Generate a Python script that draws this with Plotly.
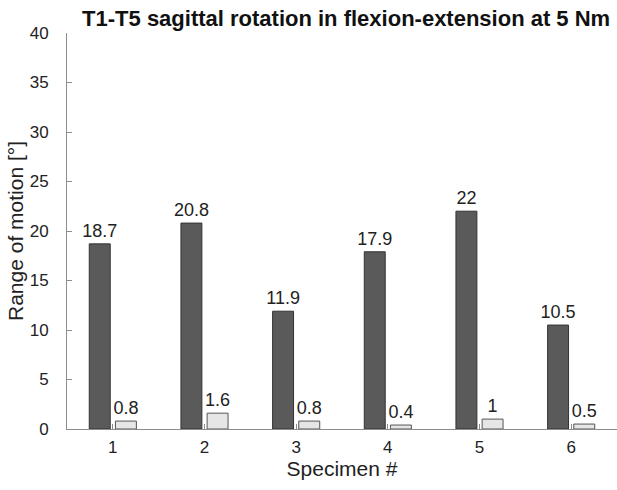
import plotly.graph_objects as go

specimens = [1, 2, 3, 4, 5, 6]
rom_intact = [18.7, 20.8, 11.9, 17.9, 22, 10.5]
rom_fixed = [0.8, 1.6, 0.8, 0.4, 1, 0.5]
intact_labels = ["18.7", "20.8", "11.9", "17.9", "22", "10.5"]
fixed_labels = ["0.8", "1.6", "0.8", "0.4", "1", "0.5"]
y_ticks = [0, 5, 10, 15, 20, 25, 30, 35, 40]

FONT = "Liberation Sans, Arial, sans-serif"
TXT = "#222222"

fig = go.Figure()
fig.add_trace(go.Bar(
    x=specimens, y=rom_intact, text=intact_labels,
    textposition="outside", constraintext="none", cliponaxis=False,
    textfont=dict(family=FONT, size=18, color=TXT),
    marker=dict(color="#5a5a5a", line=dict(color="#333333", width=1)),
    showlegend=False,
))
fig.add_trace(go.Bar(
    x=specimens, y=rom_fixed, text=fixed_labels,
    textposition="outside", constraintext="none", cliponaxis=False,
    textfont=dict(family=FONT, size=18, color=TXT),
    marker=dict(color="#e6e6e6", line=dict(color="#555555", width=1)),
    showlegend=False,
))

fig.update_layout(
    width=617, height=490,
    margin=dict(l=67, r=0, t=33, b=61, autoexpand=False),
    paper_bgcolor="white", plot_bgcolor="white",
    barmode="group", bargap=0.429, bargroupgap=0.2,
    font=dict(family=FONT, color=TXT),
    title=dict(
        text="<b>T1-T5 sagittal rotation in flexion-extension at 5 Nm</b>",
        x=0.561, xanchor="center", y=0.963, yanchor="middle",
        font=dict(family=FONT, size=22, color="#111111"),
    ),
    xaxis=dict(
        range=[0.5, 6.5], tickmode="array", tickvals=specimens,
        ticktext=[str(s) for s in specimens],
        showline=True, linecolor="#8c8c8c", linewidth=1,
        ticks="inside", ticklen=5, tickcolor="#8c8c8c",
        showgrid=False, zeroline=False, automargin=False,
        ticklabelstandoff=3,
        tickfont=dict(family=FONT, size=17, color=TXT),
        title=dict(text="Specimen #", font=dict(family=FONT, size=21, color=TXT), standoff=4),
    ),
    yaxis=dict(
        range=[0, 40], tickmode="array", tickvals=y_ticks,
        showline=True, linecolor="#8c8c8c", linewidth=1,
        ticks="inside", ticklen=5, tickcolor="#8c8c8c",
        showgrid=False, zeroline=False, automargin=False,
        ticklabelstandoff=14,
        tickfont=dict(family=FONT, size=17, color=TXT),
        title=dict(text="Range of motion [°]", font=dict(family=FONT, size=21, color=TXT), standoff=0),
    ),
)

fig.write_html("out.html", config={"displayModeBar": False},
               post_script="document.body.style.margin='0';")
